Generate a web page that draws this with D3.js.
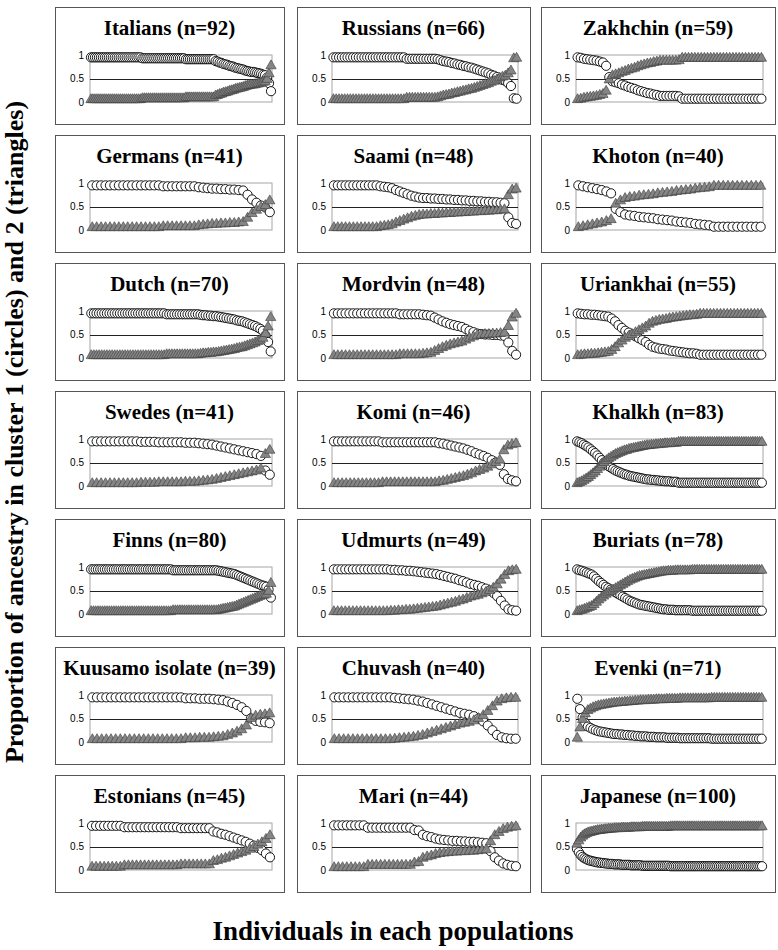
<!DOCTYPE html>
<html><head><meta charset="utf-8">
<script src="https://cdn.jsdelivr.net/npm/d3@7"></script>
<style>body{margin:0;background:#fff}</style>
</head><body>
<svg id="c" width="778" height="950"></svg>
<script>
// ---- data: proportion of ancestry in cluster 1 (circles), per individual, sorted ----
const italians = [
.95,.95,.95,.95,.95,.95,.95,.95,.95,.95,
.95,.95,.95,.95,.95,.95,.95,.95,.95,.95,
.95,.95,.95,.95,.95,.95,
.93,.93,.93,.93,.93,.93,.93,.93,.93,.93,
.93,.93,.93,.93,.93,.93,.93,.93,.93,.93,
.93,.93,
.91,.91,.91,.91,.91,.91,.91,.91,.91,.91,
.91,.91,.91,.91,.91,
.87,.86,.84,.83,.81,.80,.79,.77,.76,.75,
.73,.72,.71,.70,.69,.67,.66,.65,.64,.64,
.63,.62,.61,.60,.58,.57,.52,.40,.23];
const russians = [
.95,.95,.95,.95,.95,.95,.95,.95,.95,.95,
.95,.95,.95,.95,.95,.95,.95,.95,.95,.95,
.95,.95,.95,.95,.95,.95,
.92,.92,.92,.92,.92,.92,.92,.92,.92,.92,.92,
.91,.89,.87,.86,.85,.83,.82,.80,.79,.77,
.76,.74,.73,.71,.69,.67,.65,.63,.61,.58,
.56,.53,.49,.47,.45,.40,.34,.08,.07];
const zakhchin = [
.95,.94,.92,.91,.90,.89,.88,.86,.84,
.77,.53,.44,.42,.40,.37,.35,.32,.30,.28,
.25,.23,.21,.19,.18,.16,.15,
.13,.13,.13,.13,.13,.13,.12,
.07,.07,.07,.07,.07,.07,.07,.07,.07,.07,
.07,.07,.07,.07,.07,.07,.07,.07,.07,.07,
.07,.07,.07,.07,.07,.07];
const germans = [
.95,.95,.95,.95,.95,.95,.95,.95,.95,.95,.95,.95,.95,.95,.95,.95,
.93,.93,.93,.93,.93,.93,.93,.93,
.91,.90,.89,.88,.88,.87,.87,.86,.86,.85,
.84,.75,.65,.58,.52,.48,.38];
const saami = [
.95,.95,.95,.95,.95,.95,.95,.95,.95,.95,.95,.95,
.93,.92,.91,.89,
.85,.82,.79,.76,.73,.71,
.69,.68,.68,.67,.67,.66,.66,.65,.65,
.64,.64,.63,.63,.62,.62,.61,.61,.60,.60,
.59,.59,.58,.57,
.27,.15,.13];
const khoton = [
.95,.93,.91,.89,.87,.85,.82,.78,
.45,.38,.33,.31,.30,.28,.27,.26,.25,
.23,.22,.21,.20,.18,.17,.16,.15,
.13,.12,.11,.10,
.07,.07,.07,.07,.07,.07,.07,.07,.07,.07,.07];
const dutch = [
.95,.95,.95,.95,.95,.95,.95,.95,.95,.95,
.95,.95,.95,.95,.95,.95,.95,.95,.95,.95,
.95,.95,.95,.95,.95,.95,.95,.95,.95,
.93,.93,.93,.93,.93,.93,.93,.93,.93,.93,.93,.93,.93,
.92,.91,.91,.90,.90,.89,.89,.88,
.87,.86,.85,.84,.83,.82,.80,.79,.78,.76,.74,.72,
.70,.68,.65,.62,.58,.48,.34,.14];
const mordvin = [
.95,.95,.95,.95,.95,.95,.95,.95,.95,.95,
.95,.95,.95,.95,.95,.95,.95,
.93,.93,.93,.93,.93,.93,
.92,.91,.90,
.86,.82,.78,.75,.72,.70,.68,.66,
.62,.58,.55,
.52,.51,.50,.50,.49,.49,.48,.47,
.33,.15,.07];
const uriankhai = [
.95,.94,.93,.93,.92,.92,.91,.90,.89,.88,
.84,.78,.70,.64,.58,.54,.50,.46,.42,.38,.34,
.28,.24,.22,.20,.19,.18,
.16,.15,.14,.13,.12,
.11,.10,.10,.09,
.07,.07,.07,.07,.07,.07,.07,.07,.07,.07,
.07,.07,.07,.07,.07,.07,.07,.07,.07];
const swedes = [
.95,.95,.95,.95,.95,.95,.95,.95,.95,.95,.95,
.94,.94,.94,.94,.93,.93,.93,.93,.93,.93,.92,.92,.92,
.91,.90,.89,.88,.86,.84,
.82,.80,.78,.76,.74,.72,.70,.68,
.64,.33,.24];
const komi = [
.95,.95,.95,.95,.95,.95,.95,.95,.95,.95,.95,.95,
.93,.93,.93,.93,.93,.93,.93,.93,.93,.93,.93,.93,.93,.93,
.91,.90,.88,.86,.84,.82,
.80,.77,.74,.70,.67,.64,.60,
.55,.50,.45,.25,.15,.12,.10];
const khalkh = [
.95,.93,.91,.88,.85,.82,
.78,.74,.70,.65,.60,.55,.50,
.46,.42,.39,.36,.33,.31,.29,.27,
.25,.24,.22,.21,.20,.19,.18,.17,.16,.15,
.14,.14,.13,.13,.12,.12,.11,.11,.10,.10,.10,.09,.09,.09,
.07,.07,.07,.07,.07,.07,.07,.07,.07,.07,
.07,.07,.07,.07,.07,.07,.07,.07,.07,.07,
.07,.07,.07,.07,.07,.07,.07,.07,.07,.07,
.07,.07,.07,.07,.07,.07,.07,.07];
const finns = [
.95,.95,.95,.95,.95,.95,.95,.95,.95,.95,
.95,.95,.95,.95,.95,.95,.95,.95,.95,.95,
.95,.95,.95,.95,.95,.95,.95,.95,.95,.95,
.95,.95,.95,.95,.95,.95,
.93,.93,.93,.93,.93,.93,.93,.93,.93,.93,
.93,.93,.93,.93,.93,.93,.93,.93,.93,.93,
.92,.91,.90,.89,.88,.87,.86,.85,
.83,.81,.79,.77,.75,.73,.71,.69,.67,.65,.63,.61,
.60,.58,.52,.35];
const udmurts = [
.95,.95,.95,.95,.95,.95,.95,.95,.95,.95,.95,.95,.95,.95,.95,
.94,.94,.93,.93,.92,.92,.91,.90,
.89,.88,.87,.86,.85,.83,.81,.79,
.77,.75,.72,.70,.67,.64,.62,.60,
.57,.54,.50,.45,.38,
.28,.18,.10,.08,.07];
const buriats = [
.95,.93,.92,.90,.88,.86,.84,.80,
.75,.70,.66,.62,.58,.55,.52,.49,
.46,.43,.40,.37,.34,.31,.28,.26,.24,.22,
.20,.19,.18,.17,.16,.15,.14,.13,.12,.11,.10,.10,
.09,.09,.09,.08,.08,.08,.08,.08,.08,.08,
.07,.07,.07,.07,.07,.07,.07,.07,.07,.07,
.07,.07,.07,.07,.07,.07,.07,.07,.07,.07,
.07,.07,.07,.07,.07,.07,.07,.07,.07,.07];
const kuusamo = [
.95,.95,.95,.95,.95,.95,.95,.95,.95,.95,
.95,.95,.95,.95,.95,.95,.95,.95,.95,.95,
.93,.93,.93,.92,.92,.92,.91,.90,.89,
.86,.83,.79,.74,.66,
.50,.45,.43,.42,.40];
const chuvash = [
.95,.95,.95,.95,.95,.95,.95,.95,.95,.95,.95,.95,.95,
.94,.93,.92,.91,.90,.88,.86,
.83,.80,.77,.74,.71,.68,.65,.62,.60,.58,
.55,.50,.44,.35,.25,
.15,.10,.08,.07,.07];
const evenki = [
.92,.70,.52,.40,.33,.30,
.27,.25,.23,.22,.21,.20,.19,
.18,.17,.17,.16,.16,.15,.15,.14,.14,.13,
.13,.12,.12,.12,.11,.11,.11,.10,.10,.10,.10,.09,.09,
.09,.09,.09,.08,.08,.08,.08,.08,.08,.08,.08,.08,.08,.08,.08,
.07,.07,.07,.07,.07,.07,.07,.07,.07,.07,
.07,.07,.07,.07,.07,.07,.07,.07,.07,.07];
const estonians = [
.94,.94,.94,.94,.94,.94,.94,.94,
.91,.91,.91,.91,.91,.91,.91,.91,.91,.91,.91,.91,.91,.91,
.89,.89,.89,.89,.89,.89,.89,.89,
.82,.80,.77,.75,.72,.69,.66,.63,.60,.56,.52,.47,.42,.35,.27];
const mari = [
.95,.95,.95,.95,.95,.95,.95,.95,
.90,.90,.90,.90,.90,.90,.90,.90,.90,.90,.90,
.85,.84,
.75,.72,.70,.67,.65,.64,
.63,.62,.62,.61,.61,.60,.60,.59,
.58,.57,
.40,.27,.20,.14,.11,.09,.08];
const japanese = [
.45,.38,.32,.28,.25,.23,.21,.20,.19,.18,
.17,.16,.16,.15,.15,.14,.14,.13,.13,.13,
.12,.12,.12,.12,.11,.11,.11,.11,.11,.10,.10,.10,.10,.10,.10,
.09,.09,.09,.09,.09,.09,.09,.09,.09,.09,.09,.09,.09,.09,.09,
.08,.08,.08,.08,.08,.08,.08,.08,.08,.08,
.08,.08,.08,.08,.08,.08,.08,.08,.08,.08,
.08,.08,.08,.08,.08,.08,.08,.08,.08,.08,
.08,.08,.08,.08,.08,.08,.08,.08,.08,.08,
.08,.08,.08,.08,.08,.08,.08,.08,.08,.08];

const titles = ["Italians (n=92)","Russians (n=66)","Zakhchin (n=59)",
  "Germans (n=41)","Saami (n=48)","Khoton (n=40)",
  "Dutch (n=70)","Mordvin (n=48)","Uriankhai (n=55)",
  "Swedes (n=41)","Komi (n=46)","Khalkh (n=83)",
  "Finns (n=80)","Udmurts (n=49)","Buriats (n=78)",
  "Kuusamo isolate (n=39)","Chuvash (n=40)","Evenki (n=71)",
  "Estonians (n=45)","Mari (n=44)","Japanese (n=100)"];
const cluster1 = [italians,russians,zakhchin,germans,saami,khoton,dutch,mordvin,uriankhai,
  swedes,komi,khalkh,finns,udmurts,buriats,kuusamo,chuvash,evenki,estonians,mari,japanese];
const yTicks = [0, 0.5, 1];
const yTickLabels = ["0", "0.5", "1"];
const yTitle = "Proportion of ancestry in cluster 1 (circles) and 2 (triangles)";
const xTitle = "Individuals in each populations";

// ---- drawing ----
const svg = d3.select("#c");
const serif = "'Liberation Serif','Times New Roman',serif";
const sans = "'Liberation Sans',Arial,sans-serif";
const colX = [55, 297, 541], colW = [229, 233, 234];
const rowY0 = 7, rowStep = 128, boxH = 117;
const tri = d3.symbol(d3.symbolTriangle, 46);

titles.forEach((t, i) => {
  const q1 = cluster1[i];
  const q2 = q1.map(v => +(1 - v).toFixed(2)); // cluster 2 share = complement
  const c = i % 3, r = Math.floor(i / 3);
  const bw = colW[c];
  const g = svg.append("g").attr("transform", `translate(${colX[c]},${rowY0 + r * rowStep})`);
  g.append("rect").attr("x", 0.5).attr("y", 0.5).attr("width", bw).attr("height", boxH)
    .attr("fill", "#fff").attr("stroke", "#555").attr("stroke-width", 1);
  g.append("text").attr("x", bw / 2).attr("y", 28).attr("text-anchor", "middle")
    .attr("font-family", serif).attr("font-weight", "bold").attr("font-size", 21).text(t);

  const pl = 35, pr = bw - 12, pt = 48, pb = 95;
  const x = d3.scalePoint().domain(d3.range(q1.length)).range([pl, pr]).padding(0.5);
  const y = d3.scaleLinear().domain([0, 1]).range([pb, pt]);

  g.append("rect").attr("x", pl).attr("y", pt).attr("width", pr - pl).attr("height", pb - pt)
    .attr("fill", "none").attr("stroke", "#a6a6a6").attr("stroke-width", 1);
  g.append("line").attr("x1", pl).attr("x2", pr).attr("y1", Math.round(y(0.5)) + 0.5).attr("y2", Math.round(y(0.5)) + 0.5)
    .attr("stroke", "#222").attr("stroke-width", 1);

  const ax = g.append("g").attr("transform", `translate(${pl},0)`)
    .call(d3.axisLeft(y).tickValues(yTicks).tickFormat((d, k) => yTickLabels[k]).tickSize(0).tickPadding(6));
  ax.select(".domain").remove();
  ax.selectAll("text").attr("font-family", sans).attr("font-size", 10).attr("fill", "#000");

  g.append("g").selectAll("circle").data(q1).join("circle")
    .attr("cx", (d, k) => x(k)).attr("cy", d => y(d)).attr("r", 4.6)
    .attr("fill", "#fff").attr("stroke", "#000").attr("stroke-width", 0.9);
  g.append("g").selectAll("path").data(q2).join("path")
    .attr("d", tri).attr("transform", (d, k) => `translate(${x(k)},${y(d)})`)
    .attr("fill", "#858585").attr("stroke", "#3a3a3a").attr("stroke-width", 0.6);
});

svg.append("text").attr("transform", "translate(23,432) rotate(-90)").attr("text-anchor", "middle")
  .attr("font-family", serif).attr("font-weight", "bold").attr("font-size", 26).text(yTitle);
svg.append("text").attr("x", 393).attr("y", 940).attr("text-anchor", "middle")
  .attr("font-family", serif).attr("font-weight", "bold").attr("font-size", 27).text(xTitle);
</script>
</body></html>
